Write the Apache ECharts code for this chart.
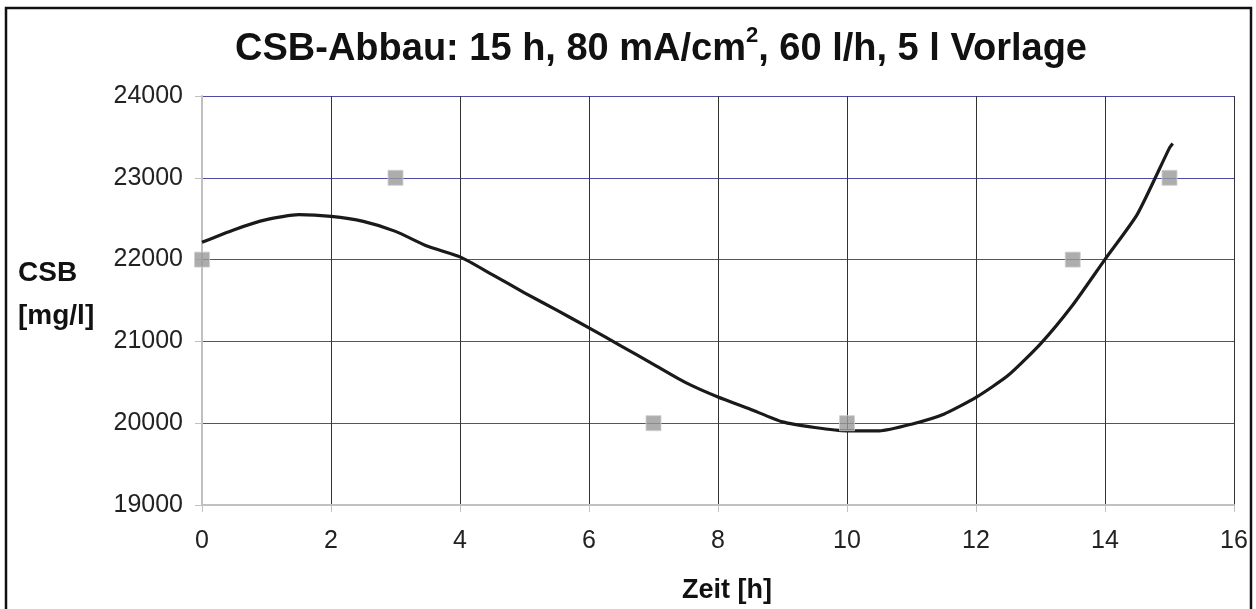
<!DOCTYPE html>
<html>
<head>
<meta charset="utf-8">
<script src="https://cdn.jsdelivr.net/npm/echarts@6/dist/echarts.min.js"></script>
<style>html,body{margin:0;padding:0;background:#fff}#c{width:1256px;height:609px}</style>
</head>
<body>
<div id="c"></div>
<script>
// measured points (Zeit [h], CSB [mg/l])
const measX = [0, 3, 7, 10, 13.5, 15];
const measY = [22000, 23000, 20000, 20000, 22000, 23000];
// trend curve
const curveX = [0,0.5,1,1.5,2,2.5,3,3.5,4,4.5,5,5.5,6,6.5,7,7.5,8,8.5,9,9.5,10,10.5,11,11.5,12,12.5,13,13.5,14,14.5,15,15.05];
const curveY = [22211,22366,22488,22549,22528,22467,22345,22162,22033,21817,21594,21382,21165,20943,20720,20496,20320,20171,20016,19947,19906,19906,19988,20110,20315,20585,20970,21445,22003,22553,23366,23420];
const xTicks = [0,2,4,6,8,10,12,14,16];
const yTicks = [19000,20000,21000,22000,23000,24000];

const FONT = '"Liberation Sans", Arial, sans-serif';
const chart = echarts.init(document.getElementById('c'));
chart.setOption({
  animation: false,
  backgroundColor: '#fff',
  title: {
    text: '{m|CSB-Abbau: 15 h, 80 mA/cm}{s|2}{m|, 60 l/h, 5 l Vorlage}',
    left: 230, top: 20,
    textStyle: {
      rich: {
        m: {fontFamily: FONT, fontWeight: 'bold', fontSize: 38, color: '#111', verticalAlign: 'bottom'},
        s: {fontFamily: FONT, fontWeight: 'bold', fontSize: 22, color: '#111', verticalAlign: 'bottom', padding: [0,0,22,0]}
      }
    }
  },
  grid: {left: 202, right: 22, top: 96, bottom: 103},
  xAxis: {
    type: 'value', min: xTicks[0], max: xTicks[xTicks.length-1], interval: 2,
    name: 'Zeit [h]', nameLocation: 'middle', nameGap: 72,
    nameTextStyle: {fontFamily: FONT, fontWeight: 'bold', fontSize: 27, color: '#111', padding: [0,0,0,18]},
    axisLine: {show: true, onZero: false, lineStyle: {color: '#c0c0c0', width: 2}},
    axisTick: {show: true, length: 7, lineStyle: {color: '#c0c0c0'}},
    axisLabel: {fontFamily: FONT, fontSize: 25, color: '#222', margin: 24},
    splitLine: {show: true, showMinLine: false, lineStyle: {color: '#333', width: 1}}
  },
  yAxis: {
    type: 'value', min: yTicks[0], max: yTicks[yTicks.length-1], interval: 1000,
    axisLine: {show: true, onZero: false, lineStyle: {color: '#c0c0c0', width: 2}},
    axisTick: {show: true, length: 7, lineStyle: {color: '#c0c0c0'}},
    axisLabel: {fontFamily: FONT, fontSize: 25, color: '#222', margin: 19, formatter: v => String(v)},
    splitLine: {show: true, showMinLine: false, lineStyle: {color: '#4c4ca4', width: 1}}
  },
  graphic: [
    {type: 'rect', shape: {x: 6, y: 8, width: 1245, height: 620}, style: {fill: 'none', stroke: '#111', lineWidth: 2.5}, silent: true},
    {type: 'text', left: 18, top: 259, style: {text: 'CSB', font: 'bold 28px ' + FONT, fill: '#111'}},
    {type: 'text', left: 18, top: 302, style: {text: '[mg/l]', font: 'bold 28px ' + FONT, fill: '#111'}}
  ],
  series: [
    {
      type: 'line', data: curveX.map((x, i) => [x, curveY[i]]),
      showSymbol: false, smooth: 0.2, z: 3,
      lineStyle: {color: '#1a1a1a', width: 3.2}
    },
    {
      type: 'scatter', data: measX.map((x, i) => [x, measY[i]]),
      symbol: 'rect', symbolSize: 15, z: 4,
      itemStyle: {color: '#999999', borderColor: '#d0d0d0', borderWidth: 1}
    }
  ]
});
</script>
</body>
</html>
